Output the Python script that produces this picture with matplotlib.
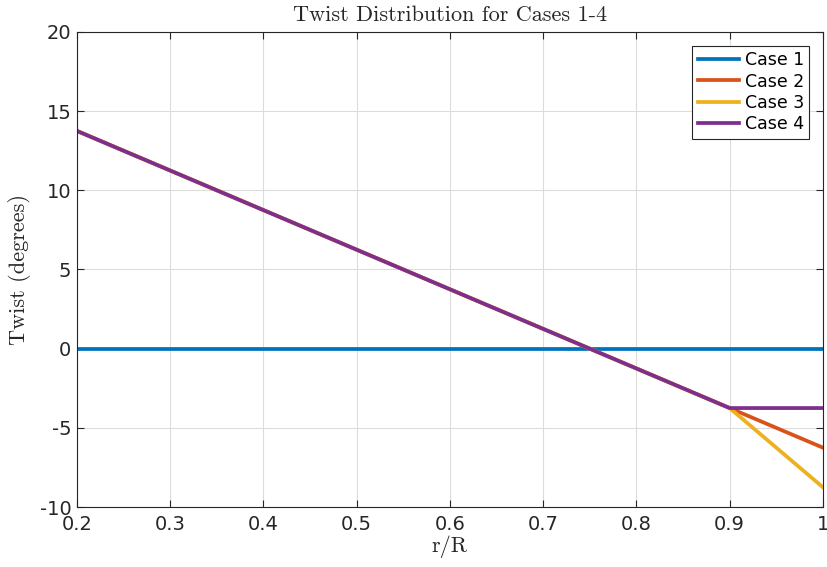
import matplotlib
matplotlib.use("Agg")
import matplotlib.pyplot as plt

# data
r_R = [0.2, 0.9, 1.0]
case1 = [0.0, 0.0, 0.0]
case2 = [13.75, -3.75, -6.25]
case3 = [13.75, -3.75, -8.75]
case4 = [13.75, -3.75, -3.75]
labels = ["Case 1", "Case 2", "Case 3", "Case 4"]
colors = ["#0072BD", "#D95319", "#EDB120", "#7E2F8E"]

plt.rcParams['axes.unicode_minus'] = False
plt.rcParams['font.family'] = 'DejaVu Sans'

fig = plt.figure(figsize=(8.27, 5.67), dpi=100)
ax = fig.add_axes([0.0931, 0.1058, 0.9019, 0.8378])

for y, lab, c in zip([case1, case2, case3, case4], labels, colors):
    ax.plot(r_R, y, color=c, linewidth=2.7, label=lab)

ax.set_xlim(0.2, 1.0)
ax.set_ylim(-10, 20)
ax.set_xticks([0.2, 0.3, 0.4, 0.5, 0.6, 0.7, 0.8, 0.9, 1.0])
ax.set_xticklabels(["0.2", "0.3", "0.4", "0.5", "0.6", "0.7", "0.8", "0.9", "1"])
ax.set_yticks([-10, -5, 0, 5, 10, 15, 20])

ax.grid(True, color="#dcdcdc", linewidth=0.8)
ax.set_axisbelow(True)
ax.tick_params(direction="in", top=True, right=True, labelsize=14,
               colors="#262626", length=5, width=0.8)
ax.tick_params(axis="x", pad=6)
ax.tick_params(axis="y", pad=4)
for s in ax.spines.values():
    s.set_color("#262626")
    s.set_linewidth(0.8)

ax.set_title("Twist Distribution for Cases 1-4", fontfamily="cmr10",
             fontsize=16, color="#262626", pad=8)
ax.set_xlabel("r/R", fontfamily="cmr10", fontsize=16, color="#262626", labelpad=1)
ax.set_ylabel("Twist (degrees)", fontfamily="cmr10", fontsize=16,
              color="#262626", labelpad=6)

leg = ax.legend(loc="upper right", fontsize=12.5, frameon=True, fancybox=False,
                edgecolor="#262626", framealpha=1, borderpad=0.3,
                labelspacing=0.2, handlelength=2.4, handletextpad=0.3,
                borderaxespad=0.8)
leg.get_frame().set_linewidth(0.8)

fig.savefig("out.png", dpi=100)
